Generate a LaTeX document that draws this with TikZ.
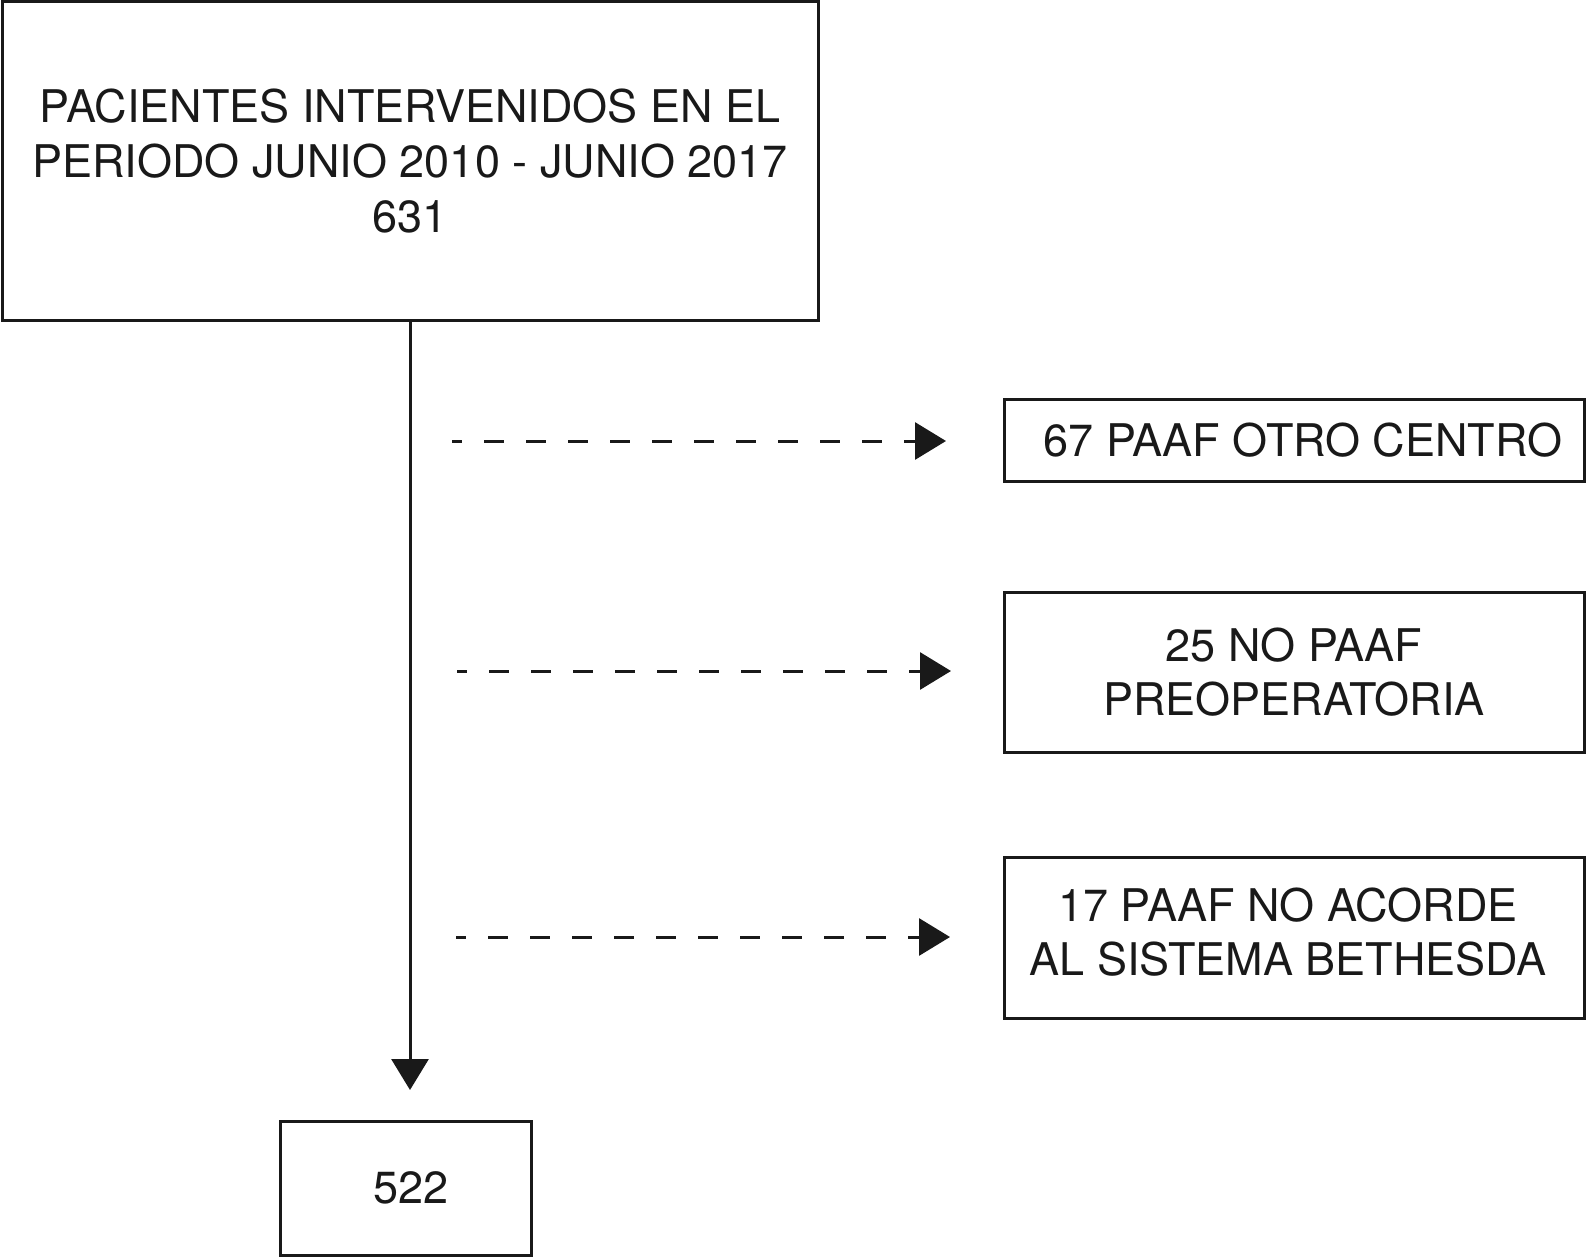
\documentclass[tikz,border=0pt]{standalone}
\usepackage{fontspec}
\setmainfont{TeX Gyre Heros}
\usetikzlibrary{arrows.meta}
\begin{document}
\begin{tikzpicture}[x=1pt,y=-1pt,
  box/.style={draw=black!90,line width=3pt,rectangle,inner sep=0pt,align=center,
    font=\fontsize{45}{54.6}\selectfont,text=black!90},
  tri/.style={-{Triangle[length=31pt,width=37pt]}},
  dasharrow/.style={tri,line width=3pt,draw=black!90,dash pattern=on 20pt off 22pt,dash phase=10pt}]
\useasboundingbox (0,0) rectangle (1586,1257);
\node[box,minimum width=816pt,minimum height=318pt] (top) at (410,161)
  {PACIENTES INTERVENIDOS EN EL\\PERIODO JUNIO 2010 - JUNIO 2017\\631};
\node[box,minimum width=251pt,minimum height=134pt] (bot) at (406,1188) {\hspace*{10pt}522};
\node[box,minimum width=580pt,minimum height=82pt] (r1) at (1294,440) {\hspace*{18pt}67 PAAF OTRO CENTRO};
\node[box,minimum width=580pt,minimum height=160pt] (r2) at (1294,672) {25 NO PAAF\\PREOPERATORIA};
\node[box,minimum width=580pt,minimum height=161pt,text depth=12pt] (r3) at (1294,937.5) {17 PAAF NO ACORDE\hspace*{12pt}\\AL SISTEMA BETHESDA\hspace*{12pt}};
\coordinate (vend) at (410,1090);
\draw[tri,line width=3pt,draw=black!90] (top.south -| vend) -- (vend);
\coordinate (a1s) at (452,441); \coordinate (a1e) at (946,441);
\coordinate (a2s) at (457,671); \coordinate (a2e) at (951,671);
\coordinate (a3s) at (456,937); \coordinate (a3e) at (950,937);
\draw[dasharrow] (a1s) -- (a1e);
\draw[dasharrow] (a2s) -- (a2e);
\draw[dasharrow] (a3s) -- (a3e);
\end{tikzpicture}
\end{document}
